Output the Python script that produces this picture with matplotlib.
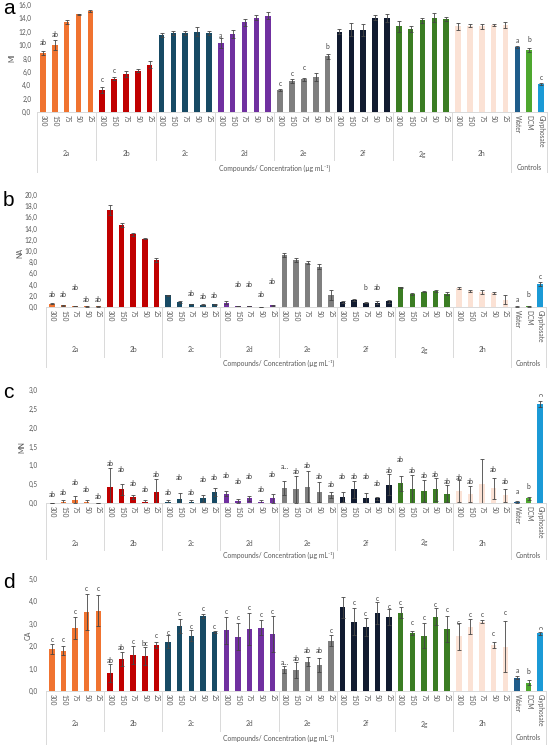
import matplotlib
matplotlib.use("Agg")
import matplotlib.pyplot as plt
import matplotlib.transforms as mtransforms
import numpy as np

# categories
compounds = ["2a", "2b", "2c", "2d", "2e", "2f", "2g", "2h"]
concentrations = ["300", "150", "75", "50", "25"]
controls = ["Water", "DCM", "Glyphosate"]

group_colors = ["#F07330", "#C00000", "#174A64", "#7030A0",
                "#7F7F7F", "#111B30", "#3B7D23", "#FBE2D5"]
control_colors = ["#1F5C8A", "#4EA72E", "#1B9AD6"]

# panel a - MI
mi_vals = [8.8, 10.0, 13.4, 14.6, 15.1,  3.3, 5.0, 5.7, 6.2, 7.1,
           11.5, 11.8, 11.8, 12.0, 11.8,  10.3, 11.7, 13.4, 14.1, 14.4,
           3.3, 4.7, 4.9, 5.2, 8.3,  12.0, 12.3, 12.2, 14.1, 14.1,
           12.8, 12.4, 13.7, 14.1, 13.9,  12.8, 12.9, 12.8, 13.0, 13.0,
           9.7, 9.2, 4.2]
mi_errs = [0.3, 0.7, 0.3, 0.1, 0.1,  0.4, 0.2, 0.4, 0.2, 0.5,
           0.3, 0.3, 0.3, 0.7, 0.3,  0.7, 0.6, 0.5, 0.4, 0.5,
           0.1, 0.3, 0.2, 0.6, 0.3,  0.4, 1.0, 0.9, 0.4, 0.6,
           0.8, 0.5, 0.4, 0.7, 0.3,  0.5, 0.2, 0.4, 0.1, 0.5,
           0.2, 0.3, 0.2]
mi_letters = ["ab", "ab", "", "", "",  "c", "c", "", "", "",
              "", "", "", "", "",  "a", "", "", "", "",
              "c", "c", "c", "", "b",  "", "", "", "", "",
              "", "", "", "", "",  "", "", "", "", "",
              "a", "b", "c"]
mi_letter_y = [10.4, 11.6, 0, 0, 0,  4.8, 6.2, 0, 0, 0,
               0, 0, 0, 0, 0,  11.4, 0, 0, 0, 0,
               4.3, 5.8, 6.6, 0, 9.8,  0, 0, 0, 0, 0,
               0, 0, 0, 0, 0,  0, 0, 0, 0, 0,
               10.7, 10.9, 5.2]

# panel b - NA
na_vals = [0.6, 0.3, 0.2, 0.1, 0.1,  17.3, 14.6, 13.0, 12.2, 8.4,
           2.1, 0.9, 0.5, 0.4, 0.5,  0.8, 0.2, 0.2, 0.05, 0.3,
           9.3, 8.4, 7.9, 7.2, 2.2,  0.9, 1.2, 0.8, 0.8, 1.0,
           3.5, 2.3, 2.7, 2.8, 2.4,  3.4, 2.8, 2.7, 2.5, 1.3,
           0.05, 0.1, 4.1]
na_errs = [0.15, 0.1, 0.05, 0.05, 0.05,  0.9, 0.4, 0.3, 0.1, 0.3,
           0.1, 0.1, 0.05, 0.05, 0.1,  0.2, 0.05, 0.05, 0.02, 0.05,
           0.4, 0.3, 0.3, 0.4, 0.9,  0.2, 0.2, 0.1, 0.2, 0.3,
           0.1, 0.2, 0.1, 0.2, 0.2,  0.1, 0.2, 0.3, 0.1, 0.8,
           0.05, 0.05, 0.3]
na_letters = ["ab", "ab", "ab", "ab", "ab",  "", "", "", "", "",
              "", "", "ab", "ab", "ab",  "", "ab", "ab", "ab", "ab",
              "", "", "", "", "",  "", "", "b", "ab", "",
              "", "", "", "", "",  "", "", "", "", "",
              "a", "b", "c"]
na_letter_y = [2.3, 2.2, 3.4, 1.4, 1.4,  0, 0, 0, 0, 0,
               0, 0, 2.4, 1.8, 2.0,  0, 4.0, 4.1, 2.3, 4.6,
               0, 0, 0, 0, 0,  0, 0, 3.4, 3.5, 0,
               0, 0, 0, 0, 0,  0, 0, 0, 0, 0,
               1.3, 2.3, 5.4]

# panel c - MN
mn_vals = [0.0, 0.02, 0.09, 0.03, 0.0,  0.43, 0.36, 0.16, 0.03, 0.29,
           0.03, 0.10, 0.03, 0.12, 0.29,  0.25, 0.05, 0.12, 0.03, 0.12,
           0.40, 0.36, 0.43, 0.29, 0.22,  0.16, 0.36, 0.12, 0.12, 0.49,
           0.52, 0.36, 0.32, 0.36, 0.25,  0.32, 0.24, 0.51, 0.39, 0.20,
           0.03, 0.12, 2.64]
mn_errs = [0.0, 0.06, 0.10, 0.05, 0.0,  0.51, 0.15, 0.06, 0.05, 0.36,
           0.05, 0.16, 0.05, 0.10, 0.10,  0.07, 0.06, 0.07, 0.05, 0.12,
           0.18, 0.36, 0.41, 0.27, 0.08,  0.13, 0.22, 0.14, 0.05, 0.27,
           0.20, 0.38, 0.30, 0.30, 0.22,  0.29, 0.22, 0.66, 0.28, 0.18,
           0.02, 0.03, 0.08]
mn_letters = ["ab"] * 20 + ["a...", "ab", "ab", "ab", "ab"] + ["ab"] * 10 + \
             ["ab", "ab", "", "ab", "ab"] + ["a", "b", "c"]
mn_letter_y = [0.22, 0.29, 0.54, 0.37, 0.18,  1.05, 0.90, 0.51, 0.37, 0.76,
               0.29, 0.67, 0.28, 0.63, 0.69,  0.73, 0.58, 0.71, 0.36, 0.75,
               0.96, 0.83, 1.00, 0.71, 0.49,  0.71, 0.71, 0.71, 0.51, 0.87,
               1.15, 0.85, 0.73, 0.75, 0.58,  0.67, 0.58, 0, 0.89, 0.56,
               0.31, 0.43, 2.87]

# panel d - CA
ca_vals = [1.86, 1.80, 2.80, 3.54, 3.59,  0.79, 1.43, 1.61, 1.56, 2.05,
           2.20, 2.90, 2.47, 3.35, 2.62,  2.72, 2.43, 2.77, 2.83, 2.53,
           0.97, 0.94, 1.31, 1.16, 2.25,  3.73, 3.10, 2.87, 3.50, 3.29,
           3.50, 2.60, 2.46, 3.32, 2.77,  2.45, 2.87, 3.10, 2.05, 1.98,
           0.60, 0.37, 2.57]
ca_errs = [0.22, 0.20, 0.50, 0.80, 0.70,  0.40, 0.30, 0.40, 0.40, 0.15,
           0.30, 0.30, 0.25, 0.07, 0.05,  0.60, 0.60, 0.70, 0.35, 0.80,
           0.15, 0.35, 0.20, 0.30, 0.25,  0.48, 0.60, 0.40, 0.49, 0.36,
           0.26, 0.10, 0.56, 0.37, 0.60,  0.60, 0.33, 0.05, 0.15, 1.15,
           0.05, 0.10, 0.05]
ca_letters = ["c"] * 5 + ["ab", "ab", "c", "bc", "c"] + ["c"] * 10 + \
             ["a...", "ab", "ab", "ab", "c"] + ["", "c", "c", "c", "c"] + \
             ["c"] * 10 + ["a", "b", "c"]
ca_letter_y = [2.28, 2.28, 3.57, 4.58, 4.58,  1.38, 1.93, 2.20, 2.13, 2.50,
               2.60, 3.47, 2.90, 3.69, 2.90,  3.54, 3.27, 3.72, 3.40, 3.54,
               1.28, 1.46, 1.79, 1.79, 2.69,  0, 3.94, 3.47, 4.14, 3.79,
               3.94, 3.05, 3.27, 3.87, 3.65,  3.05, 3.42, 3.40, 2.57, 3.51,
               0.90, 0.89, 2.83]

W, H = 548, 746
TXT = "#595959"
LINE = "#D9D9D9"

plt.rcParams["font.family"] = ["Lato", "DejaVu Sans"]


def draw_panel(fig, box, vals, errs, letters, letter_y, ymax, ystep,
               ylabel, tag, rows):
    left, top, right, zero = box
    ax = fig.add_axes([left / W, 1 - zero / H, (right - left) / W, (zero - top) / H])
    n = len(vals)
    x = np.arange(n)
    colors = [c for c in group_colors for _ in concentrations] + control_colors
    ax.bar(x, vals, width=0.47, color=colors, zorder=2)
    ax.errorbar(x, vals, yerr=errs, fmt="none", ecolor="#454545",
                elinewidth=0.6, capsize=1.3, capthick=0.6, zorder=3)
    for i in range(n):
        if letters[i]:
            rot = 270 if (letters[i] == "c" and i == n - 1 and ymax < 10) else 0
            ax.text(x[i], letter_y[i], letters[i], ha="center", va="center",
                    fontsize=4.8, color="#404040", rotation=rot, zorder=4)

    ax.set_xlim(-0.5, n - 0.5)
    ax.set_ylim(0, ymax)
    ax.set_yticks(np.arange(0, ymax + ystep / 2, ystep))
    ax.set_yticklabels([f"{v:.1f}".replace(".", ",") for v in ax.get_yticks()])
    ax.set_xticks(x)
    ax.set_xticklabels(concentrations * len(compounds) + controls, rotation=270)
    ax.tick_params(axis="both", length=0, labelsize=4.7, labelcolor=TXT)
    ax.tick_params(axis="x", pad=2.5)
    ax.tick_params(axis="y", pad=left - 33 if left < 40 else 6)
    for s in ["top", "right", "left"]:
        ax.spines[s].set_visible(False)
    ax.spines["bottom"].set_color(LINE)
    ax.spines["bottom"].set_linewidth(0.7)

    sep_end, group_y, xlabel_y, outer_end = rows
    tr = mtransforms.blended_transform_factory(ax.transData, fig.transFigure)
    fy = lambda p: 1 - p / H
    for g in range(len(compounds) + 1):
        xb = g * 5 - 0.5
        end = outer_end if g in (0, len(compounds)) else sep_end
        ax.plot([xb, xb], [fy(zero), fy(end)], transform=tr, color=LINE,
                lw=0.7, clip_on=False)
    ax.plot([n - 0.5, n - 0.5], [fy(zero), fy(outer_end)], transform=tr,
            color=LINE, lw=0.7, clip_on=False)
    for g, name in enumerate(compounds):
        ax.text(g * 5 + 2, fy(group_y), name, transform=tr, ha="center",
                va="center", fontsize=4.9, color=TXT)
    ax.text(len(compounds) * 5 / 2 - 0.5, fy(xlabel_y),
            "Compounds/ Concentration (µg mL⁻¹)", transform=tr, ha="center",
            va="center", fontsize=4.9, color=TXT)
    ax.text(n - 2, fy(xlabel_y), "Controls", transform=tr, ha="center",
            va="center", fontsize=4.9, color=TXT)

    fig.text(tag[0] / W, fy(tag[1]), tag[2], fontsize=15, ha="left",
             va="center", family="Liberation Sans")
    fig.text(ylabel[0] / W, fy(ylabel[1]), ylabel[2], fontsize=5,
             rotation=90, ha="center", va="center", color=TXT)
    return ax


fig = plt.figure(figsize=(W / 100, H / 100), dpi=100)

draw_panel(fig, (37, 5, 547, 112), mi_vals, mi_errs, mi_letters, mi_letter_y,
           16, 2, (12, 58, "MI"), (3, 8, "a"), (160, 154, 168, 172))
draw_panel(fig, (46, 195, 546, 307), na_vals, na_errs, na_letters, na_letter_y,
           20, 2, (20, 253, "NA"), (3, 200, "b"), (357, 350, 363, 367))
draw_panel(fig, (46, 390, 546, 503), mn_vals, mn_errs, mn_letters, mn_letter_y,
           3, 0.5, (22, 447, "MN"), (3, 393, "c"), (550, 543, 555, 559))
draw_panel(fig, (46, 579, 546, 691), ca_vals, ca_errs, ca_letters, ca_letter_y,
           5, 1, (28, 635, "CA"), (3, 582, "d"), (731, 724, 738, 744))

fig.savefig("out.png", dpi=100)
